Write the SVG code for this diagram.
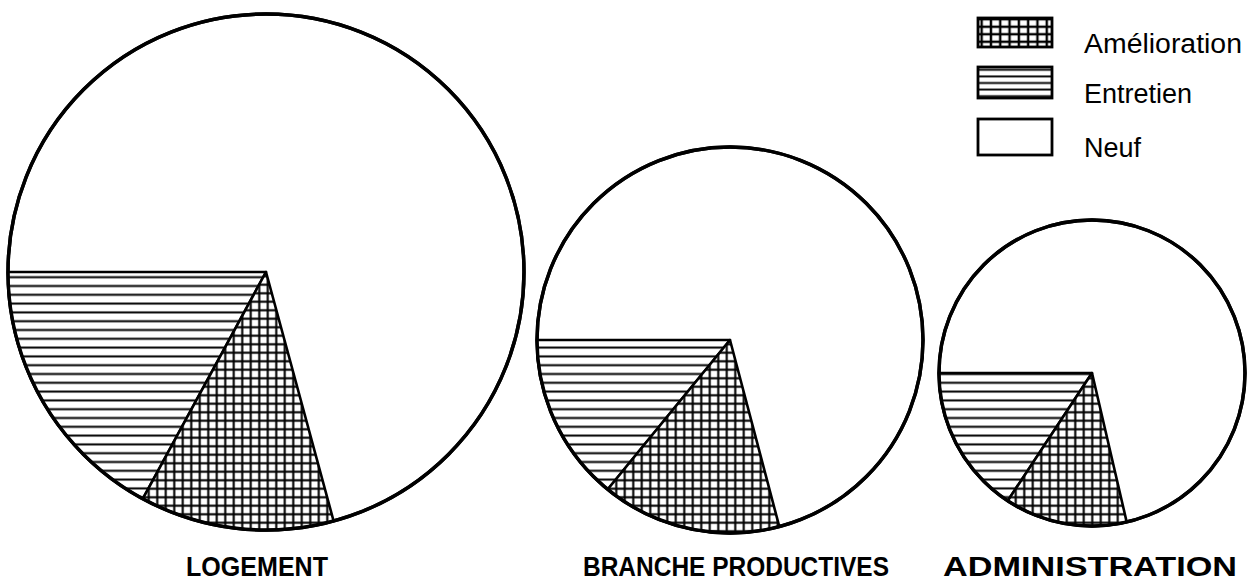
<svg xmlns="http://www.w3.org/2000/svg" width="1248" height="582" viewBox="0 0 1248 582">
<style>
.rim{fill:#fff;stroke:#000;stroke-width:3.4}
.sec{stroke:#000;stroke-width:2.6;stroke-linejoin:round}
.ent{fill:url(#hLines)}
.ame{fill:url(#grid)}
.lbl{font-family:"Liberation Sans",Arial,sans-serif;font-weight:bold;font-size:27px;fill:#000;text-anchor:middle}
.leg{font-family:"Liberation Sans",Arial,sans-serif;font-size:27px;fill:#000}
.box{stroke:#000;stroke-width:2.8}
</style>
<defs>
<pattern id="hLines" patternUnits="userSpaceOnUse" width="20" height="8.8">
<rect width="20" height="8.8" fill="#fff"/>
<line x1="0" y1="4.4" x2="20" y2="4.4" stroke="#000" stroke-width="2"/>
</pattern>
<pattern id="grid" patternUnits="userSpaceOnUse" width="8.5" height="8.5">
<rect width="8.5" height="8.5" fill="#fff"/>
<line x1="0" y1="4.25" x2="8.5" y2="4.25" stroke="#000" stroke-width="2.1"/>
<line x1="4.25" y1="0" x2="4.25" y2="8.5" stroke="#000" stroke-width="2.1"/>
</pattern>
<pattern id="hLinesLeg" patternUnits="userSpaceOnUse" width="20" height="6.6" y="0.5">
<rect width="20" height="6.6" fill="#fff"/>
<line x1="0" y1="3.3" x2="20" y2="3.3" stroke="#000" stroke-width="1.9"/>
</pattern>
<pattern id="gridLeg" patternUnits="userSpaceOnUse" width="9.3" height="7.5" x="0.5" y="0.5">
<rect width="9.3" height="7.5" fill="#fff"/>
<line x1="0" y1="3.75" x2="9.3" y2="3.75" stroke="#000" stroke-width="2.4"/>
<line x1="4.65" y1="0" x2="4.65" y2="7.5" stroke="#000" stroke-width="2.4"/>
</pattern>
</defs>

<g id="logement">
<circle class="rim" cx="266" cy="272" r="258"/>
<path class="sec ent" d="M266,272 L8,272 A258,258 0 0 0 142.9,498.7 Z"/>
<path class="sec ame" d="M266,272 L142.9,498.7 A258,258 0 0 0 333.6,521 Z"/>
<circle cx="266" cy="272" r="258" fill="none" stroke="#000" stroke-width="3.4"/>
<text class="lbl" x="257" y="576" textLength="142" lengthAdjust="spacingAndGlyphs">LOGEMENT</text>
</g>

<g id="branche">
<circle class="rim" cx="730" cy="340" r="193"/>
<path class="sec ent" d="M730,340 L537,340 A193,193 0 0 0 607.8,489.3 Z"/>
<path class="sec ame" d="M730,340 L607.8,489.3 A193,193 0 0 0 779.3,526.6 Z"/>
<circle cx="730" cy="340" r="193" fill="none" stroke="#000" stroke-width="3.4"/>
<text class="lbl" x="736" y="576" textLength="306" lengthAdjust="spacingAndGlyphs">BRANCHE PRODUCTIVES</text>
</g>

<g id="administration">
<circle class="rim" cx="1092" cy="373" r="153"/>
<path class="sec ent" d="M1092,373 L939,373 A153,153 0 0 0 1007.8,500.7 Z"/>
<path class="sec ame" d="M1092,373 L1007.8,500.7 A153,153 0 0 0 1126.7,522 Z"/>
<circle cx="1092" cy="373" r="153" fill="none" stroke="#000" stroke-width="3.4"/>
<text class="lbl" x="1090" y="576" textLength="294" lengthAdjust="spacingAndGlyphs">ADMINISTRATION</text>
</g>

<g id="legend">
<g id="leg-amelioration">
<rect class="box" x="978" y="18" width="74" height="29" fill="url(#gridLeg)"/>
<text class="leg" x="1084" y="53" textLength="158" lengthAdjust="spacingAndGlyphs">Amélioration</text>
</g>
<g id="leg-entretien">
<rect class="box" x="978" y="67" width="74" height="31" fill="url(#hLinesLeg)"/>
<text class="leg" x="1084" y="103">Entretien</text>
</g>
<g id="leg-neuf">
<rect class="box" x="978" y="119" width="74" height="36" fill="#fff"/>
<text class="leg" x="1084" y="157">Neuf</text>
</g>
</g>
<g id="connectors"/>
</svg>
